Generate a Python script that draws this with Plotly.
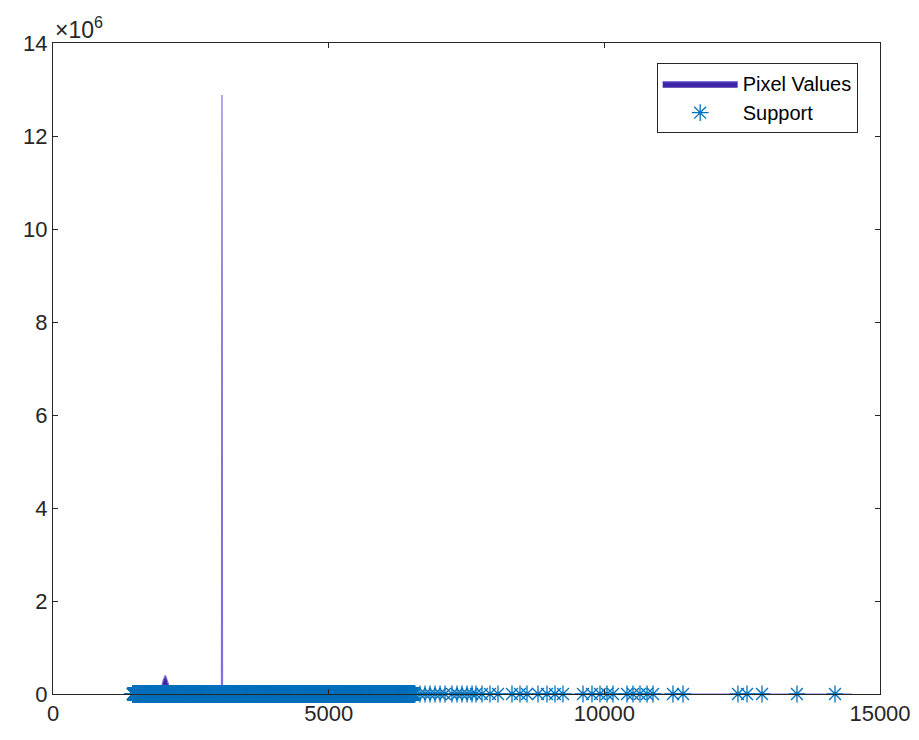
import numpy as np
import plotly.graph_objects as go

# Histogram of pixel values (bin centre, count)
hist_x = [1400, 1880, 1930, 1970, 2000, 2020, 2035, 2050, 2080, 2120, 2170, 2220,
          3055, 3065, 3075, 14500]
hist_y = [0, 0, 40000, 160000, 300000, 380000, 400000, 370000, 250000, 120000, 30000, 0,
          0, 12880000, 0, 0]

# Support: contiguous run of observed integer values, then isolated values
dense_lo, dense_hi = 1450, 6550
support_sparse = [6566, 6657, 6748, 6838, 6929, 7020, 7110, 7237, 7328, 7418, 7509,
                  7600, 7672, 7781, 7926, 8071, 8325, 8470, 8597, 8797, 8960, 9105,
                  9250, 9613, 9776, 9921, 10048, 10157, 10411, 10520, 10647, 10774,
                  10883, 11245, 11427, 12424, 12588, 12860, 13494, 14184]
support_x = list(np.arange(dense_lo, dense_hi + 1)) + support_sparse
support_y = [0] * len(support_x)

x_ticks = [0, 5000, 10000, 15000]
y_ticks = [0, 2e6, 4e6, 6e6, 8e6, 10e6, 12e6, 14e6]
y_tick_text = ["0", "2", "4", "6", "8", "10", "12", "14"]

fill_col = "#3E26A8"
edge_col = "#7F70DD"
marker_col = "#0072BD"
axis_col = "#262626"
family = "Liberation Sans, Arial, sans-serif"
font = dict(family=family, size=22, color=axis_col)

fig = go.Figure()
fig.add_trace(go.Scatter(
    x=hist_x, y=hist_y, mode="lines", name="Pixel Values",
    fill="tozeroy", fillcolor=fill_col,
    line=dict(color=edge_col, width=1.2),
))
fig.add_trace(go.Scatter(
    x=support_x, y=support_y, mode="markers", name="Support",
    cliponaxis=False,
    marker=dict(symbol="asterisk-open", size=14, color=marker_col,
                line=dict(color=marker_col, width=1.3)),
))

axis_common = dict(
    showgrid=False, zeroline=False, showline=True, linecolor=axis_col, linewidth=1,
    mirror="ticks", ticks="inside", ticklen=5, tickcolor=axis_col,
    tickfont=font, automargin=False,
)
fig.update_xaxes(range=[0, 15000], tickvals=x_ticks, ticktext=[str(v) for v in x_ticks],
                 **axis_common)
fig.update_yaxes(range=[0, 14e6], tickvals=y_ticks, ticktext=y_tick_text, **axis_common)

fig.add_annotation(
    xref="paper", yref="paper", x=0.0, y=1.0, xanchor="left", yanchor="bottom",
    text="×10<sup>6</sup>", showarrow=False,
    font=dict(family=family, size=23, color=axis_col), yshift=-2,
)

fig.update_layout(
    width=919, height=740,
    margin=dict(l=53, r=39, t=43, b=46),
    paper_bgcolor="white", plot_bgcolor="white",
    font=font,
    showlegend=True,
    legend=dict(
        x=0.973, y=0.969, xanchor="right", yanchor="top",
        bgcolor="white", bordercolor=axis_col, borderwidth=1,
        font=dict(family=family, size=20, color="black"),
        itemwidth=75, tracegroupgap=2,
    ),
)

fig.write_html("out.html")
